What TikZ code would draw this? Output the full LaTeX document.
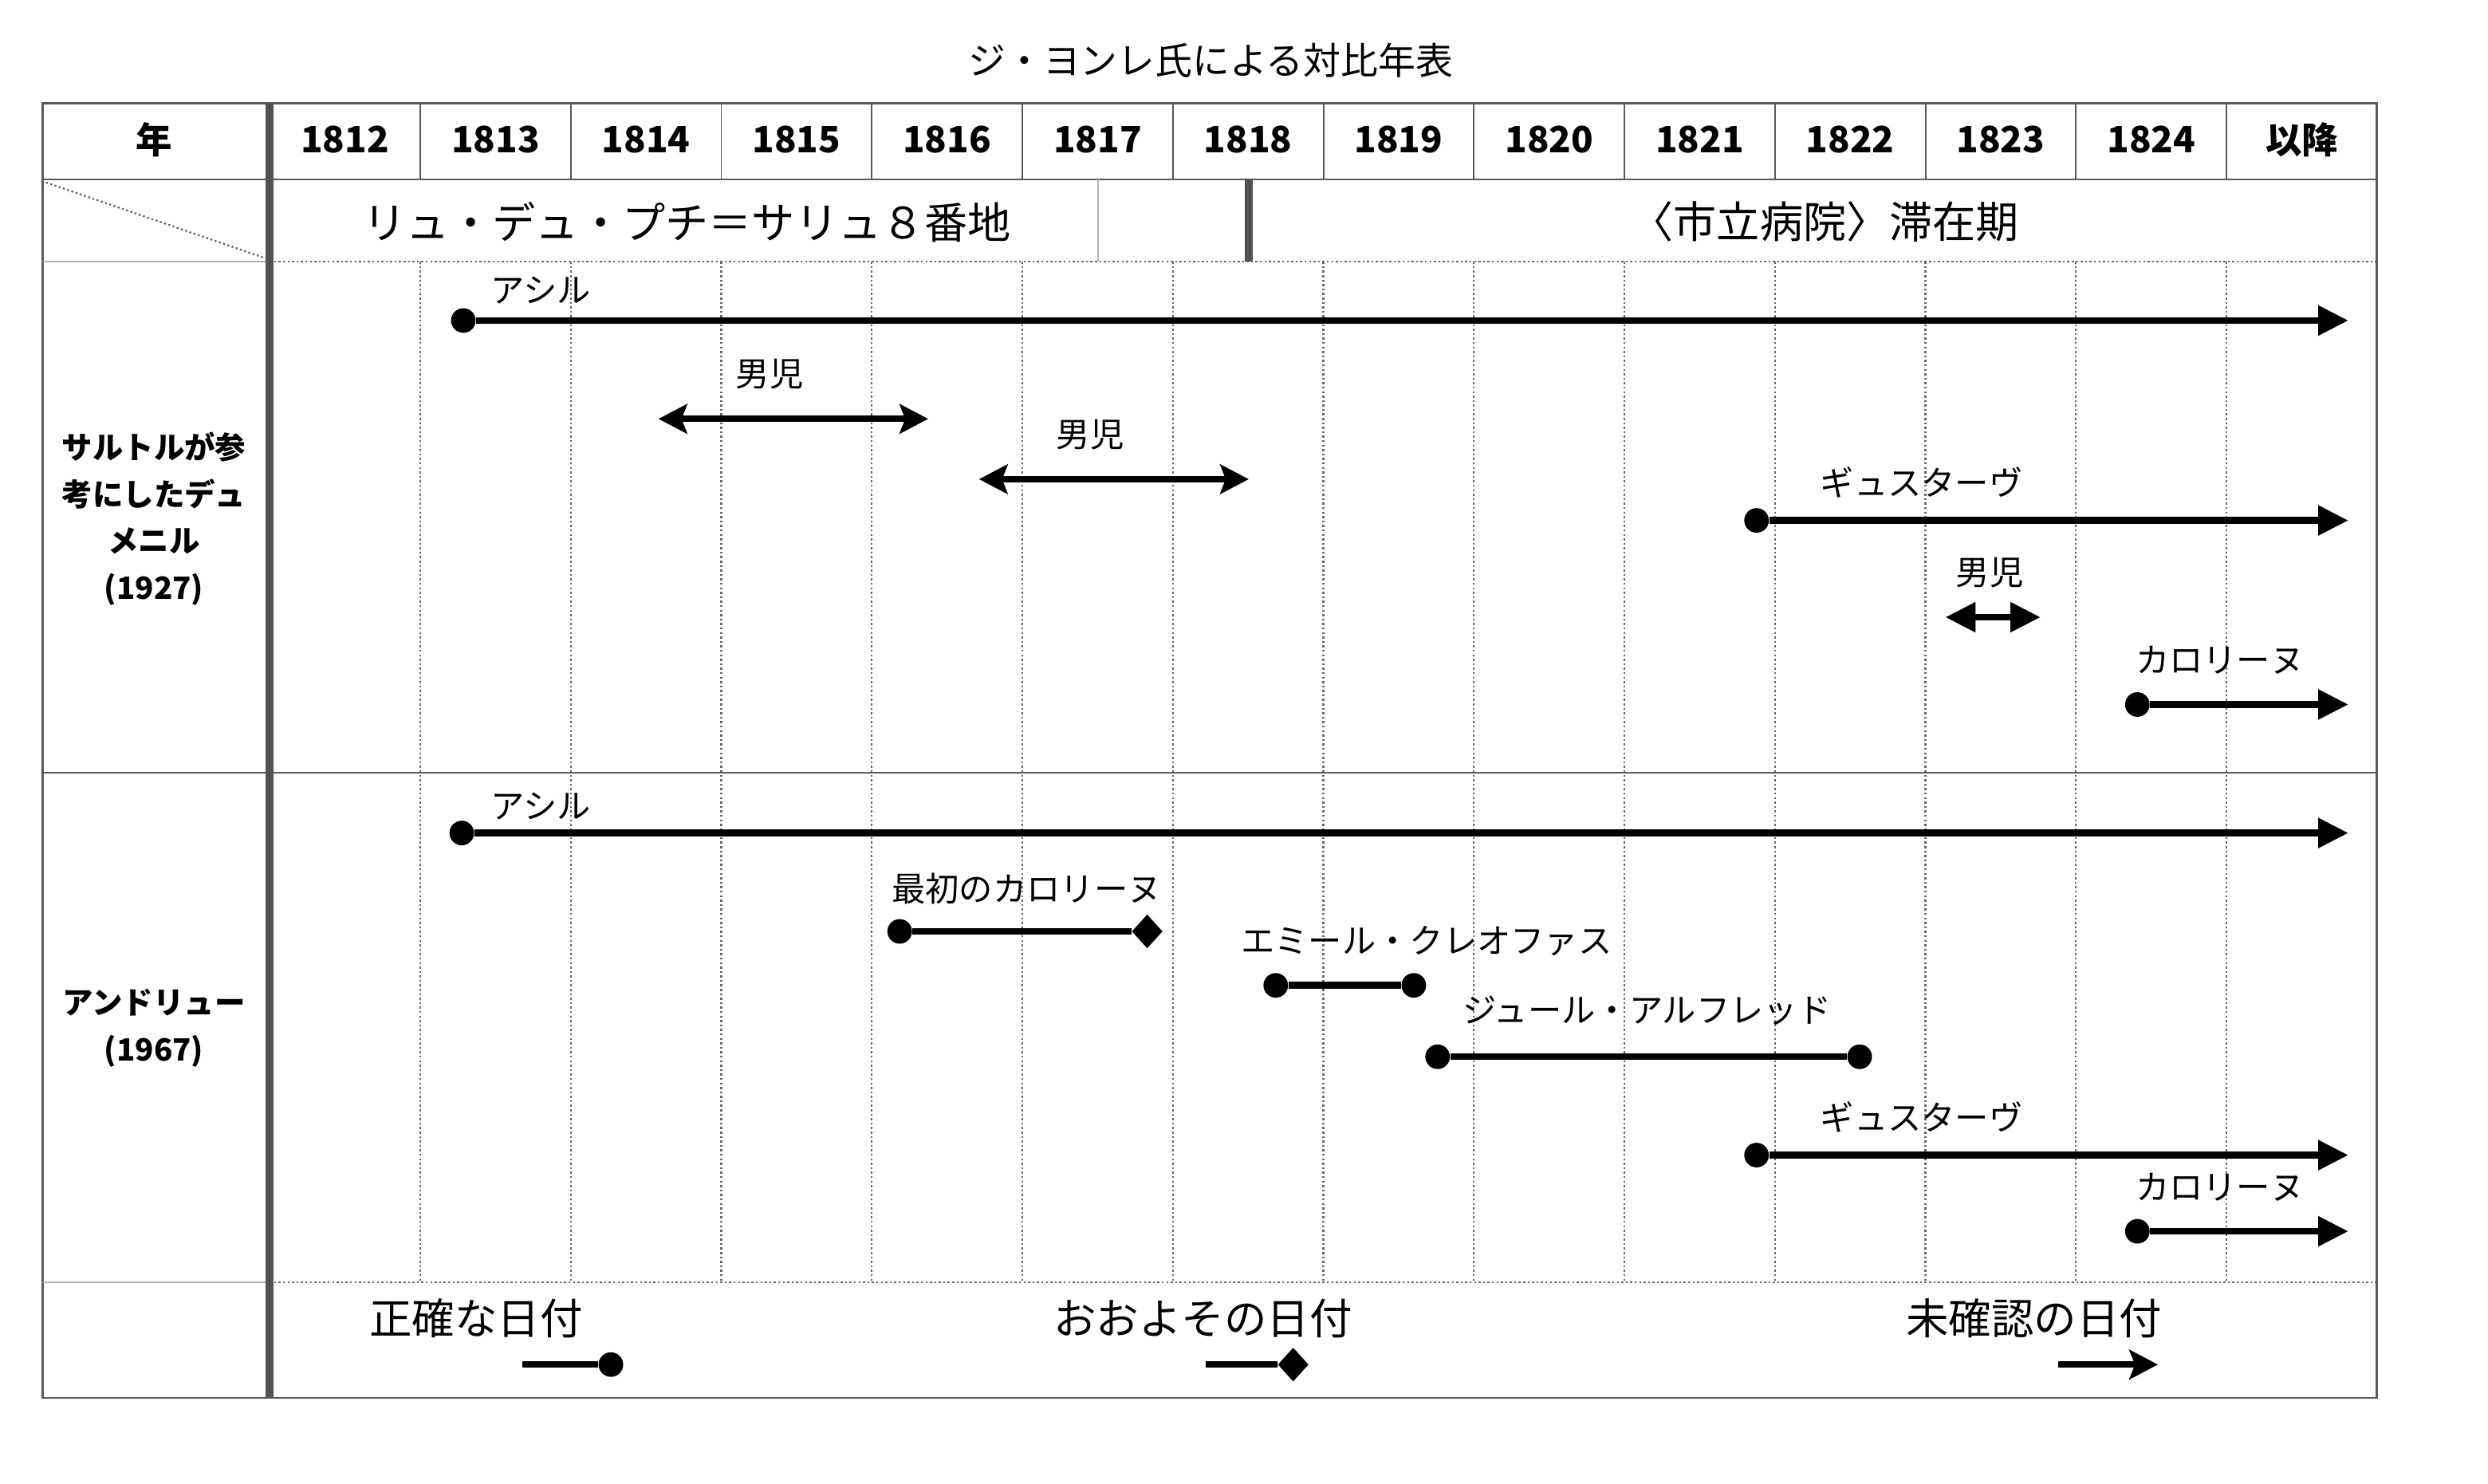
\documentclass[tikz,border=0pt]{standalone}
\usepackage{fontspec}
\setmainfont{Noto Sans CJK JP}
\usetikzlibrary{arrows.meta,shapes.geometric}

\tikzset{
  tri/.tip={Triangle[length=0.38cm,width=0.36cm]},
  stl/.tip={Stealth[length=0.36cm,width=0.37cm,inset=0.07cm]},
  frame/.style={draw=black!65, line width=0.75pt},
  bar/.style={draw=black!68, line width=2.8pt},
  sep/.style={draw=black!65, line width=0.55pt},
  faint/.style={draw=black!30, line width=0.5pt},
  dots/.style={draw=black!60, line width=0.65pt, dash pattern=on 0.7pt off 0.9pt},
  life/.style={line width=2.4pt},
  dot/.style={fill, circle, inner sep=0pt, minimum size=0.31cm},
  gem/.style={fill, diamond, inner sep=0pt, minimum width=0.39cm, minimum height=0.43cm},
  title/.style={font=\fontsize{13.4}{16}\selectfont},
  head/.style={font=\bfseries\fontsize{13}{16}\selectfont},
  place/.style={font=\fontsize{15.5}{18}\selectfont},
  side/.style={align=center, font=\bfseries\fontsize{11}{16.8}\selectfont},
  tag/.style={font=\fontsize{12.1}{14}\selectfont},
  key/.style={font=\fontsize{15.3}{18}\selectfont}
}

\begin{document}
\begin{tikzpicture}[x=0.02cm, y=-0.02cm]
    \useasboundingbox (0,0) rectangle (1568,935);

    \node[title] (title) at (763,38) {ジ・ヨンレ氏による対比年表};

    % table
    \draw[frame] (27,65) rectangle (1498,881);
    \draw[frame] (27,113) -- (1498,113);
    \draw[frame] (27,487) -- (1498,487);
    \draw[faint] (27,165) -- (170,165) (27,808) -- (170,808);
    \draw[dots] (170,165) -- (1498,165) (170,808) -- (1498,808);
    \draw[dots] (29,115) -- (168,163);
    \foreach \k in {1,...,13} {
        \draw[sep] ({170+94.86*\k},65) -- ({170+94.86*\k},113);
        \draw[dots] ({170+94.86*\k},165) -- ({170+94.86*\k},808);
    }
    \draw[faint] (692,113) -- (692,165);
    \draw[bar] (787,113) -- (787,165);
    \draw[bar] (170,65) -- (170,881);

    % header
    \node[head] (nen) at (97,88) {年};
    \foreach \yr [count=\i from 0] in {1812,1813,...,1824}
        \node[head] (y\yr) at ({170+94.86*(\i+0.5)},88) {\yr};
    \node[head] (ikou) at ({170+94.86*13.5},88) {以降};

    \node[place] (rue) at (433,140) {リュ・デュ・プチ＝サリュ８番地};
    \node[place] (hosp) at (1150,140) {〈市立病院〉滞在期};

    \node[side] (dum) at (97,327) {サルトルが参\\考にしたデュ\\メニル\\(1927)};
    \node[side] (and) at (97,648) {アンドリュー\\(1967)};

    % Dumesnil
    \node[dot] (d1) at (292,202) {};
    \coordinate (d2) at (1480,202);
    \coordinate (d3) at (415,264);
    \coordinate (d4) at (585,264);
    \coordinate (d5) at (617,302);
    \coordinate (d6) at (787,302);
    \node[dot] (d7) at (1107,328) {};
    \coordinate (d8) at (1480,328);
    \coordinate (d9) at (1226,389);
    \coordinate (d10) at (1286,389);
    \node[dot] (d11) at (1347,444) {};
    \coordinate (d12) at (1480,444);

    \node[tag] (t1) at (341,183) {アシル};
    \node[tag] (t2) at (485,236) {男児};
    \node[tag] (t3) at (687,274) {男児};
    \node[tag] (t4) at (1211,304) {ギュスターヴ};
    \node[tag] (t5) at (1254,361) {男児};
    \node[tag] (t6) at (1399,416) {カロリーヌ};

    % Andrieu
    \node[dot] (a1) at (291,525) {};
    \coordinate (a2) at (1480,525);
    \node[dot] (a3) at (567,587) {};
    \node[gem] (a4) at (723,587) {};
    \node[dot] (a5) at (804,621) {};
    \node[dot] (a6) at (891,621) {};
    \node[dot] (a7) at (906,666) {};
    \node[dot] (a8) at (1172,666) {};
    \node[dot] (a9) at (1107,728) {};
    \coordinate (a10) at (1480,728);
    \node[dot] (a11) at (1347,776) {};
    \coordinate (a12) at (1480,776);

    \node[tag] (t7) at (341,508) {アシル};
    \node[tag] (t8) at (647,560) {最初のカロリーヌ};
    \node[tag] (t9) at (899,593) {エミール・クレオファス};
    \node[tag] (t10) at (1038,637) {ジュール・アルフレッド};
    \node[tag] (t11) at (1211,704) {ギュスターヴ};
    \node[tag] (t12) at (1399,748) {カロリーヌ};

    % legend
    \node[key] (k1) at (300,831) {正確な日付};
    \coordinate (l1) at (329,860);
    \node[dot] (l2) at (385,860) {};
    \node[key] (k2) at (758,831) {おおよその日付};
    \coordinate (l3) at (760,860);
    \node[gem] (l4) at (815,860) {};
    \node[key] (k3) at (1282,831) {未確認の日付};
    \coordinate (l5) at (1297,860);
    \coordinate (l6) at (1360,860);

    \draw[life, -tri] (d1) -- (d2);
    \draw[life, stl-stl] (d3) -- (d4);
    \draw[life, stl-stl] (d5) -- (d6);
    \draw[life, -tri] (d7) -- (d8);
    \draw[life, tri-tri] (d9) -- (d10);
    \draw[life, -tri] (d11) -- (d12);

    \draw[life, -tri] (a1) -- (a2);
    \draw[life] (a3) -- (a4);
    \draw[life] (a5) -- (a6);
    \draw[life] (a7) -- (a8);
    \draw[life, -tri] (a9) -- (a10);
    \draw[life, -tri] (a11) -- (a12);

    \draw[life] (l1) -- (l2);
    \draw[life] (l3) -- (l4);
    \draw[life, -stl] (l5) -- (l6);
\end{tikzpicture}
\end{document}
